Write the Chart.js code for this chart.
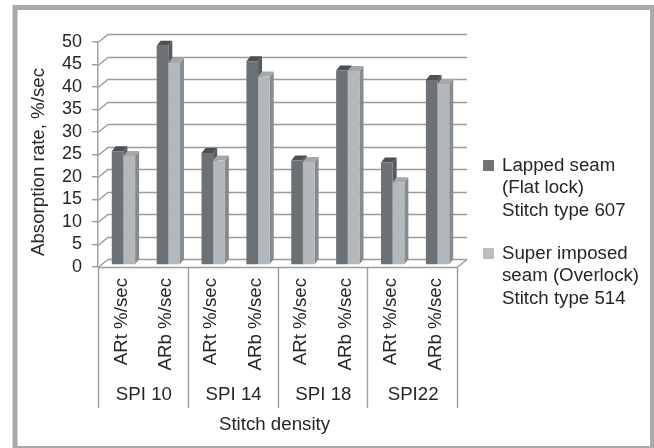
<!DOCTYPE html>
<html>
<head>
<meta charset="utf-8">
<script src="https://cdn.jsdelivr.net/npm/chart.js@4.4.1/dist/chart.umd.min.js"></script>
<style>
  html, body { margin: 0; padding: 0; background: #ffffff; overflow: hidden; }
  canvas { display: block; }
</style>
</head>
<body>
<canvas id="chart" width="654" height="448"></canvas>
<script>
// Absorption rate by stitch density, for two seam types
const subLabels = ['ARt %/sec', 'ARb %/sec', 'ARt %/sec', 'ARb %/sec',
                   'ARt %/sec', 'ARb %/sec', 'ARt %/sec', 'ARb %/sec'];
const groupLabels = ['SPI 10', 'SPI 14', 'SPI 18', 'SPI22'];
const lappedSeam = [25.3, 48.7, 24.9, 45.3, 23.2, 43.2, 22.8, 41.1];
const superImposedSeam = [24.2, 44.9, 23.2, 41.9, 22.9, 43.1, 18.4, 40.2];
const legendLapped = ['Lapped seam', '(Flat lock)', 'Stitch type 607'];
const legendSuper = ['Super imposed', 'seam (Overlock)', 'Stitch type 514'];
const yTitle = 'Absorption rate, %/sec';
const xTitle = 'Stitch density';

const FONT = '"Liberation Sans", Arial, sans-serif';
const TEXT = '#262626';
const GRID = '#9c9c9c';
const DEPTH_X = 10, DEPTH_Y = 8;       // depth of the back wall
const BAR_SHIFT_X = 3, BAR_SHIFT_Y = 2; // bars sit slightly behind the front plane
const FACE_X = 4, FACE_Y = 5;          // top / side face depth of each bar

const scene3d = {
  id: 'scene3d',
  beforeDraw(chart) {
    const { ctx, chartArea: a, scales: { y } } = chart;
    ctx.save();
    // outer frame
    ctx.strokeStyle = '#a8aaad';
    ctx.lineWidth = 5;
    ctx.strokeRect(15, 7.5, 637.5, 441);
    // back wall gridlines with their left-wall diagonals
    ctx.strokeStyle = GRID;
    ctx.lineWidth = 1.4;
    y.ticks.forEach(t => {
      const py = Math.round(y.getPixelForValue(t.value)) + 0.5;
      ctx.beginPath();
      ctx.moveTo(a.left, py);
      ctx.lineTo(a.left + DEPTH_X, py - DEPTH_Y);
      ctx.lineTo(a.right + DEPTH_X, py - DEPTH_Y);
      ctx.stroke();
    });
    // floor outline
    const fy = Math.round(y.getPixelForValue(0)) + 0.5;
    ctx.beginPath();
    ctx.moveTo(a.left, fy);
    ctx.lineTo(a.right, fy);
    ctx.lineTo(a.right + DEPTH_X, fy - DEPTH_Y);
    ctx.stroke();
    ctx.restore();
  },
  // the bars are drawn below, together with their 3D faces
  beforeDatasetDraw() {
    return false;
  },
  // each series is finished (side, top, then front) left to right,
  // so the right-hand bar of a pair hides the side of the left one
  afterDatasetsDraw(chart) {
    const ctx = chart.ctx;
    ctx.save();
    ctx.translate(BAR_SHIFT_X, -BAR_SHIFT_Y);
    chart.data.datasets.forEach((ds, di) => {
      const meta = chart.getDatasetMeta(di);
      meta.data.forEach(bar => {
        const { x, y, base, width } = bar.getProps(['x', 'y', 'base', 'width'], true);
        const l = x - width / 2, r = x + width / 2;
        ctx.fillStyle = ds.sideColor;
        ctx.beginPath();
        ctx.moveTo(r, y);
        ctx.lineTo(r + FACE_X, y - FACE_Y);
        ctx.lineTo(r + FACE_X, base - FACE_Y);
        ctx.lineTo(r, base);
        ctx.closePath();
        ctx.fill();
        ctx.fillStyle = ds.topColor;
        ctx.beginPath();
        ctx.moveTo(l, y);
        ctx.lineTo(l + FACE_X, y - FACE_Y);
        ctx.lineTo(r + FACE_X, y - FACE_Y);
        ctx.lineTo(r, y);
        ctx.closePath();
        ctx.fill();
        bar.draw(ctx);
      });
    });
    ctx.restore();
  },
  afterDraw(chart) {
    const { ctx, chartArea: a, scales: { x, y } } = chart;
    ctx.save();
    ctx.fillStyle = TEXT;
    ctx.font = '18.7px ' + FONT;

    // category separators
    const axisY = Math.round(y.getPixelForValue(0)) + 0.5;
    ctx.strokeStyle = GRID;
    ctx.lineWidth = 1.4;
    for (let g = 0; g <= groupLabels.length; g++) {
      const px = Math.round(x.getPixelForValue(g * 2 - 0.5)) + 0.5;
      ctx.beginPath();
      ctx.moveTo(px, axisY);
      ctx.lineTo(px, 408);
      ctx.stroke();
    }

    // rotated sub-category labels
    subLabels.forEach((lab, i) => {
      const px = x.getPixelForValue(i);
      ctx.save();
      ctx.translate(px + 1, 278);
      ctx.rotate(-Math.PI / 2);
      ctx.textAlign = 'right';
      ctx.textBaseline = 'middle';
      ctx.fillText(lab, 0, 0);
      ctx.restore();
    });

    // group labels
    ctx.textAlign = 'center';
    ctx.textBaseline = 'middle';
    groupLabels.forEach((lab, g) => {
      const px = (x.getPixelForValue(g * 2) + x.getPixelForValue(g * 2 + 1)) / 2;
      ctx.fillText(lab, px + 1, 395);
    });

    // axis titles
    ctx.fillText(xTitle, (a.left + a.right) / 2 - 3, 425);
    ctx.save();
    ctx.translate(39, 162);
    ctx.rotate(-Math.PI / 2);
    ctx.fillText(yTitle, 0, 0);
    ctx.restore();

    // legend
    ctx.textAlign = 'left';
    const entries = [
      { lines: legendLapped, color: chart.data.datasets[0].legendColor, top: 160 },
      { lines: legendSuper, color: chart.data.datasets[1].legendColor, top: 248 }
    ];
    entries.forEach(e => {
      ctx.fillStyle = e.color;
      ctx.fillRect(483, e.top, 11, 11);
      ctx.fillStyle = TEXT;
      e.lines.forEach((ln, k) => ctx.fillText(ln, 502, e.top + 5.5 + k * 22.5));
    });
    ctx.restore();
  }
};

new Chart(document.getElementById('chart'), {
  type: 'bar',
  data: {
    labels: subLabels,
    datasets: [
      {
        label: legendLapped.join(' '),
        data: lappedSeam,
        backgroundColor: '#6b7175',
        topColor: '#4b5154',
        sideColor: '#565b5e',
        legendColor: '#727477'
      },
      {
        label: legendSuper.join(' '),
        data: superImposedSeam,
        backgroundColor: '#b3b8bd',
        topColor: '#a3a8ad',
        sideColor: '#868b8f',
        legendColor: '#bcbec1'
      }
    ]
  },
  options: {
    responsive: false,
    animation: false,
    devicePixelRatio: 1,
    layout: { padding: { left: 17, top: 42, right: 197, bottom: 181 } },
    datasets: {
      bar: { categoryPercentage: 0.52, barPercentage: 1, borderWidth: 0, clip: false }
    },
    plugins: { legend: { display: false }, tooltip: { enabled: false } },
    scales: {
      x: { display: false },
      y: {
        min: 0,
        max: 50,
        ticks: { stepSize: 5, autoSkip: false, color: TEXT, font: { family: FONT, size: 18 }, padding: 10 },
        grid: { drawOnChartArea: false, tickLength: 6, color: GRID, lineWidth: 1.4 },
        border: { color: GRID, width: 1.4 },
        afterFit(scale) { scale.width = 81; }
      }
    }
  },
  plugins: [scene3d]
});
</script>
</body>
</html>
